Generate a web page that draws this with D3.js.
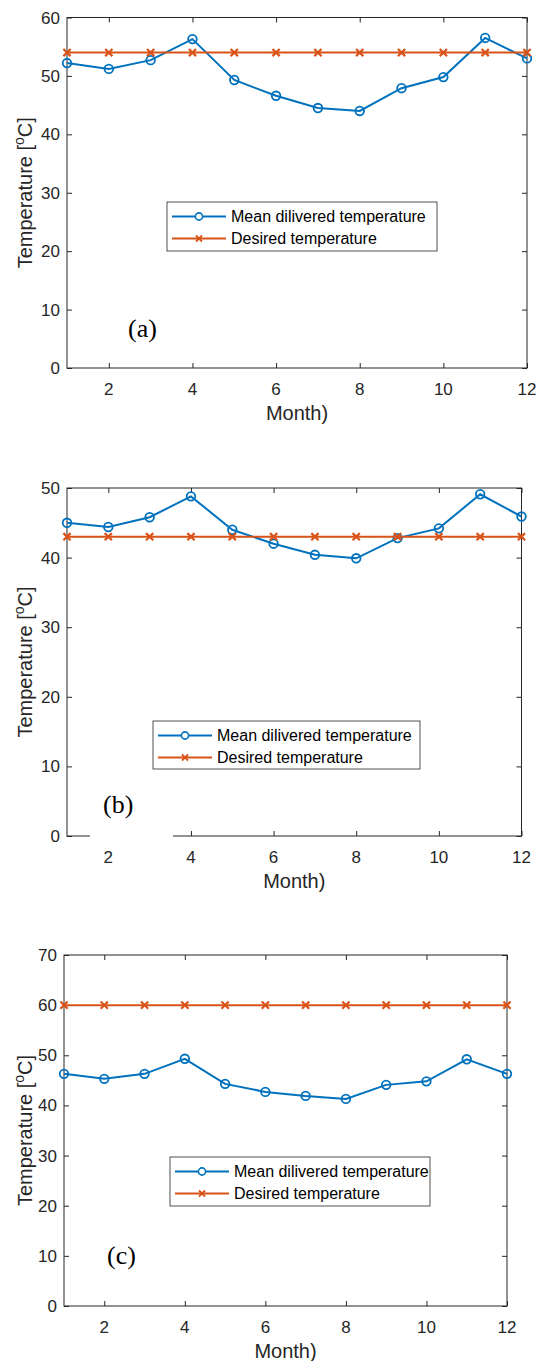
<!DOCTYPE html>
<html>
<head>
<meta charset="utf-8">
<script src="https://cdn.jsdelivr.net/npm/d3@7"></script>
<style>
  html, body { margin: 0; padding: 0; background: #fff; }
  svg { display: block; }
</style>
</head>
<body>
<svg id="fig" width="538" height="1361"></svg>
<script>
// Months on the x axis
const months = [1, 2, 3, 4, 5, 6, 7, 8, 9, 10, 11, 12];
const xTicks = [2, 4, 6, 8, 10, 12];

// Panel (a)
const meanA = [52.2, 51.2, 52.7, 56.3, 49.3, 46.6, 44.5, 44.0, 47.9, 49.8, 56.5, 53.0];
const desiredA = [54, 54, 54, 54, 54, 54, 54, 54, 54, 54, 54, 54];
const yTicksA = [0, 10, 20, 30, 40, 50, 60];

// Panel (b)
const meanB = [45.0, 44.4, 45.8, 48.8, 44.0, 42.0, 40.4, 39.9, 42.8, 44.2, 49.1, 45.9];
const desiredB = [43, 43, 43, 43, 43, 43, 43, 43, 43, 43, 43, 43];
const yTicksB = [0, 10, 20, 30, 40, 50];

// Panel (c)
const meanC = [46.3, 45.3, 46.3, 49.3, 44.3, 42.7, 41.9, 41.3, 44.1, 44.8, 49.2, 46.3];
const desiredC = [60, 60, 60, 60, 60, 60, 60, 60, 60, 60, 60, 60];
const yTicksC = [0, 10, 20, 30, 40, 50, 60, 70];

const seriesNames = ["Mean dilivered temperature", "Desired temperature"];
const panelTags = ["(a)", "(b)", "(c)"];

const BLUE = "#0072BD";
const ORANGE = "#D95319";
const AXIS = "#262626";
const SANS = "'Liberation Sans', Arial, Helvetica, sans-serif";
const SERIF = "'Liberation Serif', 'Times New Roman', serif";

const svg = d3.select("#fig");

function drawPanel(opt) {
  const { left, right, top, bottom, mean, desired, yTicks, tag, tagPos, legendPos, gap } = opt;
  const x = d3.scaleLinear().domain([1, 12]).range([left, right]);
  const y = d3.scaleLinear().domain([0, d3.max(yTicks)]).range([bottom, top]);
  const g = svg.append("g");

  const tickLen = 5;

  // inward ticks on all four sides (box on)
  const tickGroups = [
    { ax: d3.axisTop(x).tickValues(xTicks), tr: `translate(0,${bottom})` },
    { ax: d3.axisBottom(x).tickValues(xTicks), tr: `translate(0,${top})` },
    { ax: d3.axisRight(y).tickValues(yTicks), tr: `translate(${left},0)` },
    { ax: d3.axisLeft(y).tickValues(yTicks), tr: `translate(${right},0)` }
  ];
  tickGroups.forEach(({ ax, tr }) => {
    const a = g.append("g").attr("transform", tr)
      .call(ax.tickSize(tickLen).tickFormat(""));
    a.select(".domain").remove();
    a.selectAll(".tick line").attr("stroke", AXIS).attr("stroke-width", 1);
  });

  // box
  g.append("rect")
    .attr("x", left).attr("y", top)
    .attr("width", right - left).attr("height", bottom - top)
    .attr("fill", "none").attr("stroke", AXIS).attr("stroke-width", 1);

  // tick labels
  g.selectAll(".xl").data(xTicks).enter().append("text")
    .attr("x", d => x(d)).attr("y", bottom + 26.5)
    .attr("text-anchor", "middle")
    .attr("font-family", SANS).attr("font-size", 17).attr("fill", AXIS)
    .text(d => d);
  g.selectAll(".yl").data(yTicks).enter().append("text")
    .attr("x", left - 7).attr("y", d => y(d) + 6)
    .attr("text-anchor", "end")
    .attr("font-family", SANS).attr("font-size", 17).attr("fill", AXIS)
    .text(d => d);

  // axis titles
  g.append("text")
    .attr("x", (left + right) / 2).attr("y", bottom + 52)
    .attr("text-anchor", "middle")
    .attr("font-family", SANS).attr("font-size", 20).attr("fill", AXIS)
    .text("Month)");
  const yl = g.append("text")
    .attr("transform", `translate(32,${(top + bottom) / 2}) rotate(-90)`)
    .attr("text-anchor", "middle")
    .attr("font-family", SANS).attr("font-size", 20).attr("fill", AXIS);
  yl.append("tspan").text("Temperature [");
  yl.append("tspan").attr("font-size", 14).attr("dy", -8).text("o");
  yl.append("tspan").attr("dy", 8).text("C]");

  // lines and markers
  const line = d3.line().x((d, i) => x(months[i])).y(d => y(d));
  g.append("path").datum(mean).attr("d", line)
    .attr("fill", "none").attr("stroke", BLUE).attr("stroke-width", 2);
  g.selectAll(".mk1").data(mean).enter().append("circle")
    .attr("cx", (d, i) => x(months[i])).attr("cy", d => y(d)).attr("r", 4.3)
    .attr("fill", "none").attr("stroke", BLUE).attr("stroke-width", 1.8);

  g.append("path").datum(desired).attr("d", line)
    .attr("fill", "none").attr("stroke", ORANGE).attr("stroke-width", 2);
  const s = 3.6;
  g.selectAll(".mk2").data(desired).enter().append("path")
    .attr("d", (d, i) => {
      const cx = x(months[i]), cy = y(d);
      return `M${cx - s},${cy - s}L${cx + s},${cy + s}M${cx - s},${cy + s}L${cx + s},${cy - s}`;
    })
    .attr("stroke", ORANGE).attr("stroke-width", 2.2).attr("fill", "none");

  // white patch across part of the lower axis
  if (gap) {
    g.append("rect")
      .attr("x", gap[0]).attr("y", bottom - 7)
      .attr("width", gap[1] - gap[0]).attr("height", 12)
      .attr("fill", "#fff");
  }

  // panel tag
  g.append("text")
    .attr("x", tagPos[0]).attr("y", tagPos[1])
    .attr("font-family", SERIF).attr("font-size", 26).attr("fill", "#000")
    .text(tag);

  // legend
  const [lx, ly, lw, lh] = legendPos;
  const lg = g.append("g");
  lg.append("rect").attr("x", lx).attr("y", ly).attr("width", lw).attr("height", lh)
    .attr("fill", "#fff").attr("stroke", AXIS).attr("stroke-width", 0.8);
  const rows = [ly + 14.5, ly + 36.5];
  seriesNames.forEach((name, i) => {
    const cy = rows[i];
    const col = i === 0 ? BLUE : ORANGE;
    lg.append("line").attr("x1", lx + 5).attr("x2", lx + 59)
      .attr("y1", cy).attr("y2", cy).attr("stroke", col).attr("stroke-width", 2);
    const mx = lx + 32;
    if (i === 0) {
      lg.append("circle").attr("cx", mx).attr("cy", cy).attr("r", 3.6)
        .attr("fill", "#fff").attr("stroke", col).attr("stroke-width", 1.6);
    } else {
      const t = 3;
      lg.append("path")
        .attr("d", `M${mx - t},${cy - t}L${mx + t},${cy + t}M${mx - t},${cy + t}L${mx + t},${cy - t}`)
        .attr("stroke", col).attr("stroke-width", 1.8);
    }
    lg.append("text").attr("x", lx + 64).attr("y", cy + 5.5)
      .attr("font-family", SANS).attr("font-size", 16).attr("fill", "#000")
      .text(name);
  });
}

drawPanel({
  left: 67, right: 527, top: 17.5, bottom: 368,
  mean: meanA, desired: desiredA, yTicks: yTicksA,
  tag: panelTags[0], tagPos: [128, 337],
  legendPos: [167, 202, 270, 49]
});

drawPanel({
  left: 67, right: 521.5, top: 488, bottom: 836,
  mean: meanB, desired: desiredB, yTicks: yTicksB,
  tag: panelTags[1], tagPos: [103, 813],
  legendPos: [153, 721, 267, 48],
  gap: [90, 173]
});

drawPanel({
  left: 64, right: 507, top: 955, bottom: 1306,
  mean: meanC, desired: desiredC, yTicks: yTicksC,
  tag: panelTags[2], tagPos: [107, 1264],
  legendPos: [170, 1157, 260, 49]
});
</script>
</body>
</html>
